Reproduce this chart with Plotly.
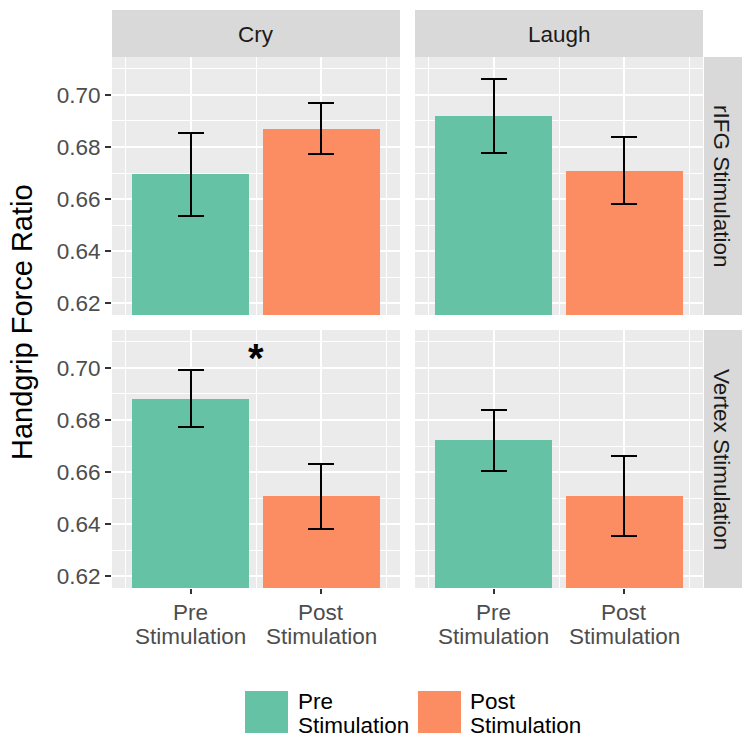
import plotly.graph_objects as go

# ---- data ----
condition_line1 = ["Pre", "Post"]
condition_line2 = ["Stimulation", "Stimulation"]
emotions = ["Cry", "Laugh"]
stimulations = ["rIFG Stimulation", "Vertex Stimulation"]

cry_rifg_mean = [0.6695, 0.6871]
cry_rifg_se = [0.0159, 0.0097]
laugh_rifg_mean = [0.6919, 0.6709]
laugh_rifg_se = [0.0143, 0.0128]
cry_vertex_mean = [0.6882, 0.6506]
cry_vertex_se = [0.0109, 0.0124]
laugh_vertex_mean = [0.6722, 0.6507]
laugh_vertex_se = [0.0117, 0.0154]

y_ticks = [0.62, 0.64, 0.66, 0.68, 0.70]
y_tick_labels = ["0.62", "0.64", "0.66", "0.68", "0.70"]
y_minor = [0.61, 0.63, 0.65, 0.67, 0.69, 0.71]
star_pos = (0.5, 0.7037)

colors = ["#66C2A5", "#FC8D62"]
FONT = "Liberation Sans, Arial, sans-serif"
W = 742.0

def px(x):
    return x / W

def py(y):
    return 1 - y / W

panels = [
    ("x", "y", cry_rifg_mean, cry_rifg_se),
    ("x2", "y2", laugh_rifg_mean, laugh_rifg_se),
    ("x3", "y3", cry_vertex_mean, cry_vertex_se),
    ("x4", "y4", laugh_vertex_mean, laugh_vertex_se),
]

fig = go.Figure()
xpos = list(range(len(condition_line1)))
for xa, ya, m, se in panels:
    fig.add_trace(go.Bar(
        x=xpos, y=m, xaxis=xa, yaxis=ya, width=0.9,
        marker=dict(color=colors, line=dict(width=0)),
        error_y=dict(type="data", array=se, visible=True, color="black",
                     thickness=2, width=13),
        showlegend=False, hoverinfo="skip",
    ))

col_dom = [[px(112), px(400)], [px(415), px(703)]]
row_dom = [[py(315), py(57)], [py(588), py(330)]]
y_range = [0.6154, 0.7146]
x_range = [-0.6, 1.6]

def xaxis(col, bottom, anchor):
    return dict(domain=col_dom[col], range=x_range, anchor=anchor,
                tickmode="array", tickvals=xpos, ticktext=["", ""],
                showticklabels=False, ticks="outside" if bottom else "",
                ticklen=5, tickwidth=2, tickcolor="#333333",
                showgrid=True, gridcolor="white", gridwidth=2,
                minor=dict(tickvals=[-0.5, 0.5, 1.5], showgrid=True,
                           gridcolor="white", gridwidth=1, ticks=""),
                zeroline=False, showline=False, fixedrange=True)

def yaxis(row, left, anchor):
    return dict(domain=row_dom[row], range=y_range, anchor=anchor,
                tickmode="array", tickvals=y_ticks, ticktext=y_tick_labels,
                showticklabels=left, ticks="outside" if left else "",
                ticklen=6, tickwidth=2, tickcolor="#333333",
                tickfont=dict(family=FONT, size=22.5, color="#4D4D4D"),
                showgrid=True, gridcolor="white", gridwidth=2,
                minor=dict(tickvals=y_minor, showgrid=True,
                           gridcolor="white", gridwidth=1, ticks=""),
                zeroline=False, showline=False, fixedrange=True)

shapes = []
annotations = []
# top strips
for i, emo in enumerate(emotions):
    shapes.append(dict(type="rect", xref="paper", yref="paper",
                       x0=col_dom[i][0], x1=col_dom[i][1], y0=py(57), y1=py(10),
                       fillcolor="#D9D9D9", line=dict(width=0), layer="below"))
    annotations.append(dict(xref="paper", yref="paper",
                            x=(col_dom[i][0] + col_dom[i][1]) / 2, y=py(34),
                            text=emo, showarrow=False,
                            font=dict(family=FONT, size=22.5, color="#1A1A1A"),
                            xanchor="center", yanchor="middle"))
# right strips
for j, stim in enumerate(stimulations):
    shapes.append(dict(type="rect", xref="paper", yref="paper",
                       x0=px(704), x1=px(742), y0=row_dom[j][0], y1=row_dom[j][1],
                       fillcolor="#D9D9D9", line=dict(width=0), layer="below"))
    annotations.append(dict(xref="paper", yref="paper",
                            x=px(722), y=(row_dom[j][0] + row_dom[j][1]) / 2,
                            text=stim, showarrow=False, textangle=90,
                            font=dict(family=FONT, size=22.5, color="#1A1A1A"),
                            xanchor="center", yanchor="middle"))

# x tick labels (two lines, ggplot-like tight spacing)
for xa in ["x3", "x4"]:
    for k in xpos:
        annotations.append(dict(xref=xa, yref="paper", x=k, y=py(612),
                                text=condition_line1[k], showarrow=False,
                                font=dict(family=FONT, size=22.5, color="#4D4D4D"),
                                xanchor="center", yanchor="middle"))
        annotations.append(dict(xref=xa, yref="paper", x=k, y=py(636),
                                text=condition_line2[k], showarrow=False,
                                font=dict(family=FONT, size=22.5, color="#4D4D4D"),
                                xanchor="center", yanchor="middle"))

# y-axis title
annotations.append(dict(xref="paper", yref="paper", x=px(22), y=py(322),
                        text="Handgrip Force Ratio", showarrow=False, textangle=-90,
                        font=dict(family=FONT, size=29, color="black"),
                        xanchor="center", yanchor="middle"))

# significance star
annotations.append(dict(xref="x3", yref="y3", x=star_pos[0], y=star_pos[1],
                        text="<b>*</b>", showarrow=False,
                        font=dict(family=FONT, size=40, color="black"),
                        xanchor="center", yanchor="middle"))

# legend (manual)
legend_items = [("Pre", "Stimulation", colors[0], 245, 297),
                ("Post", "Stimulation", colors[1], 418, 469)]
for l1, l2, c, kx, tx in legend_items:
    shapes.append(dict(type="rect", xref="paper", yref="paper",
                       x0=px(kx), x1=px(kx + 43), y0=py(733), y1=py(691),
                       fillcolor=c, line=dict(width=0)))
    annotations.append(dict(xref="paper", yref="paper", x=px(tx - 1), y=py(701),
                            text=l1, showarrow=False,
                            font=dict(family=FONT, size=22.5, color="black"),
                            xanchor="left", yanchor="middle"))
    annotations.append(dict(xref="paper", yref="paper", x=px(tx - 1), y=py(725),
                            text=l2, showarrow=False,
                            font=dict(family=FONT, size=22.5, color="black"),
                            xanchor="left", yanchor="middle"))

fig.update_layout(
    width=742, height=742,
    margin=dict(l=0, r=0, t=0, b=0),
    paper_bgcolor="white", plot_bgcolor="#EBEBEB",
    bargap=0,
    xaxis=xaxis(0, False, "y"), yaxis=yaxis(0, True, "x"),
    xaxis2=xaxis(1, False, "y2"), yaxis2=yaxis(0, False, "x2"),
    xaxis3=xaxis(0, True, "y3"), yaxis3=yaxis(1, True, "x3"),
    xaxis4=xaxis(1, True, "y4"), yaxis4=yaxis(1, False, "x4"),
    shapes=shapes, annotations=annotations,
    showlegend=False,
)

fig.write_html("out.html", config={"displayModeBar": False},
               post_script="document.body.style.margin='0px';document.body.style.overflow='hidden';")
